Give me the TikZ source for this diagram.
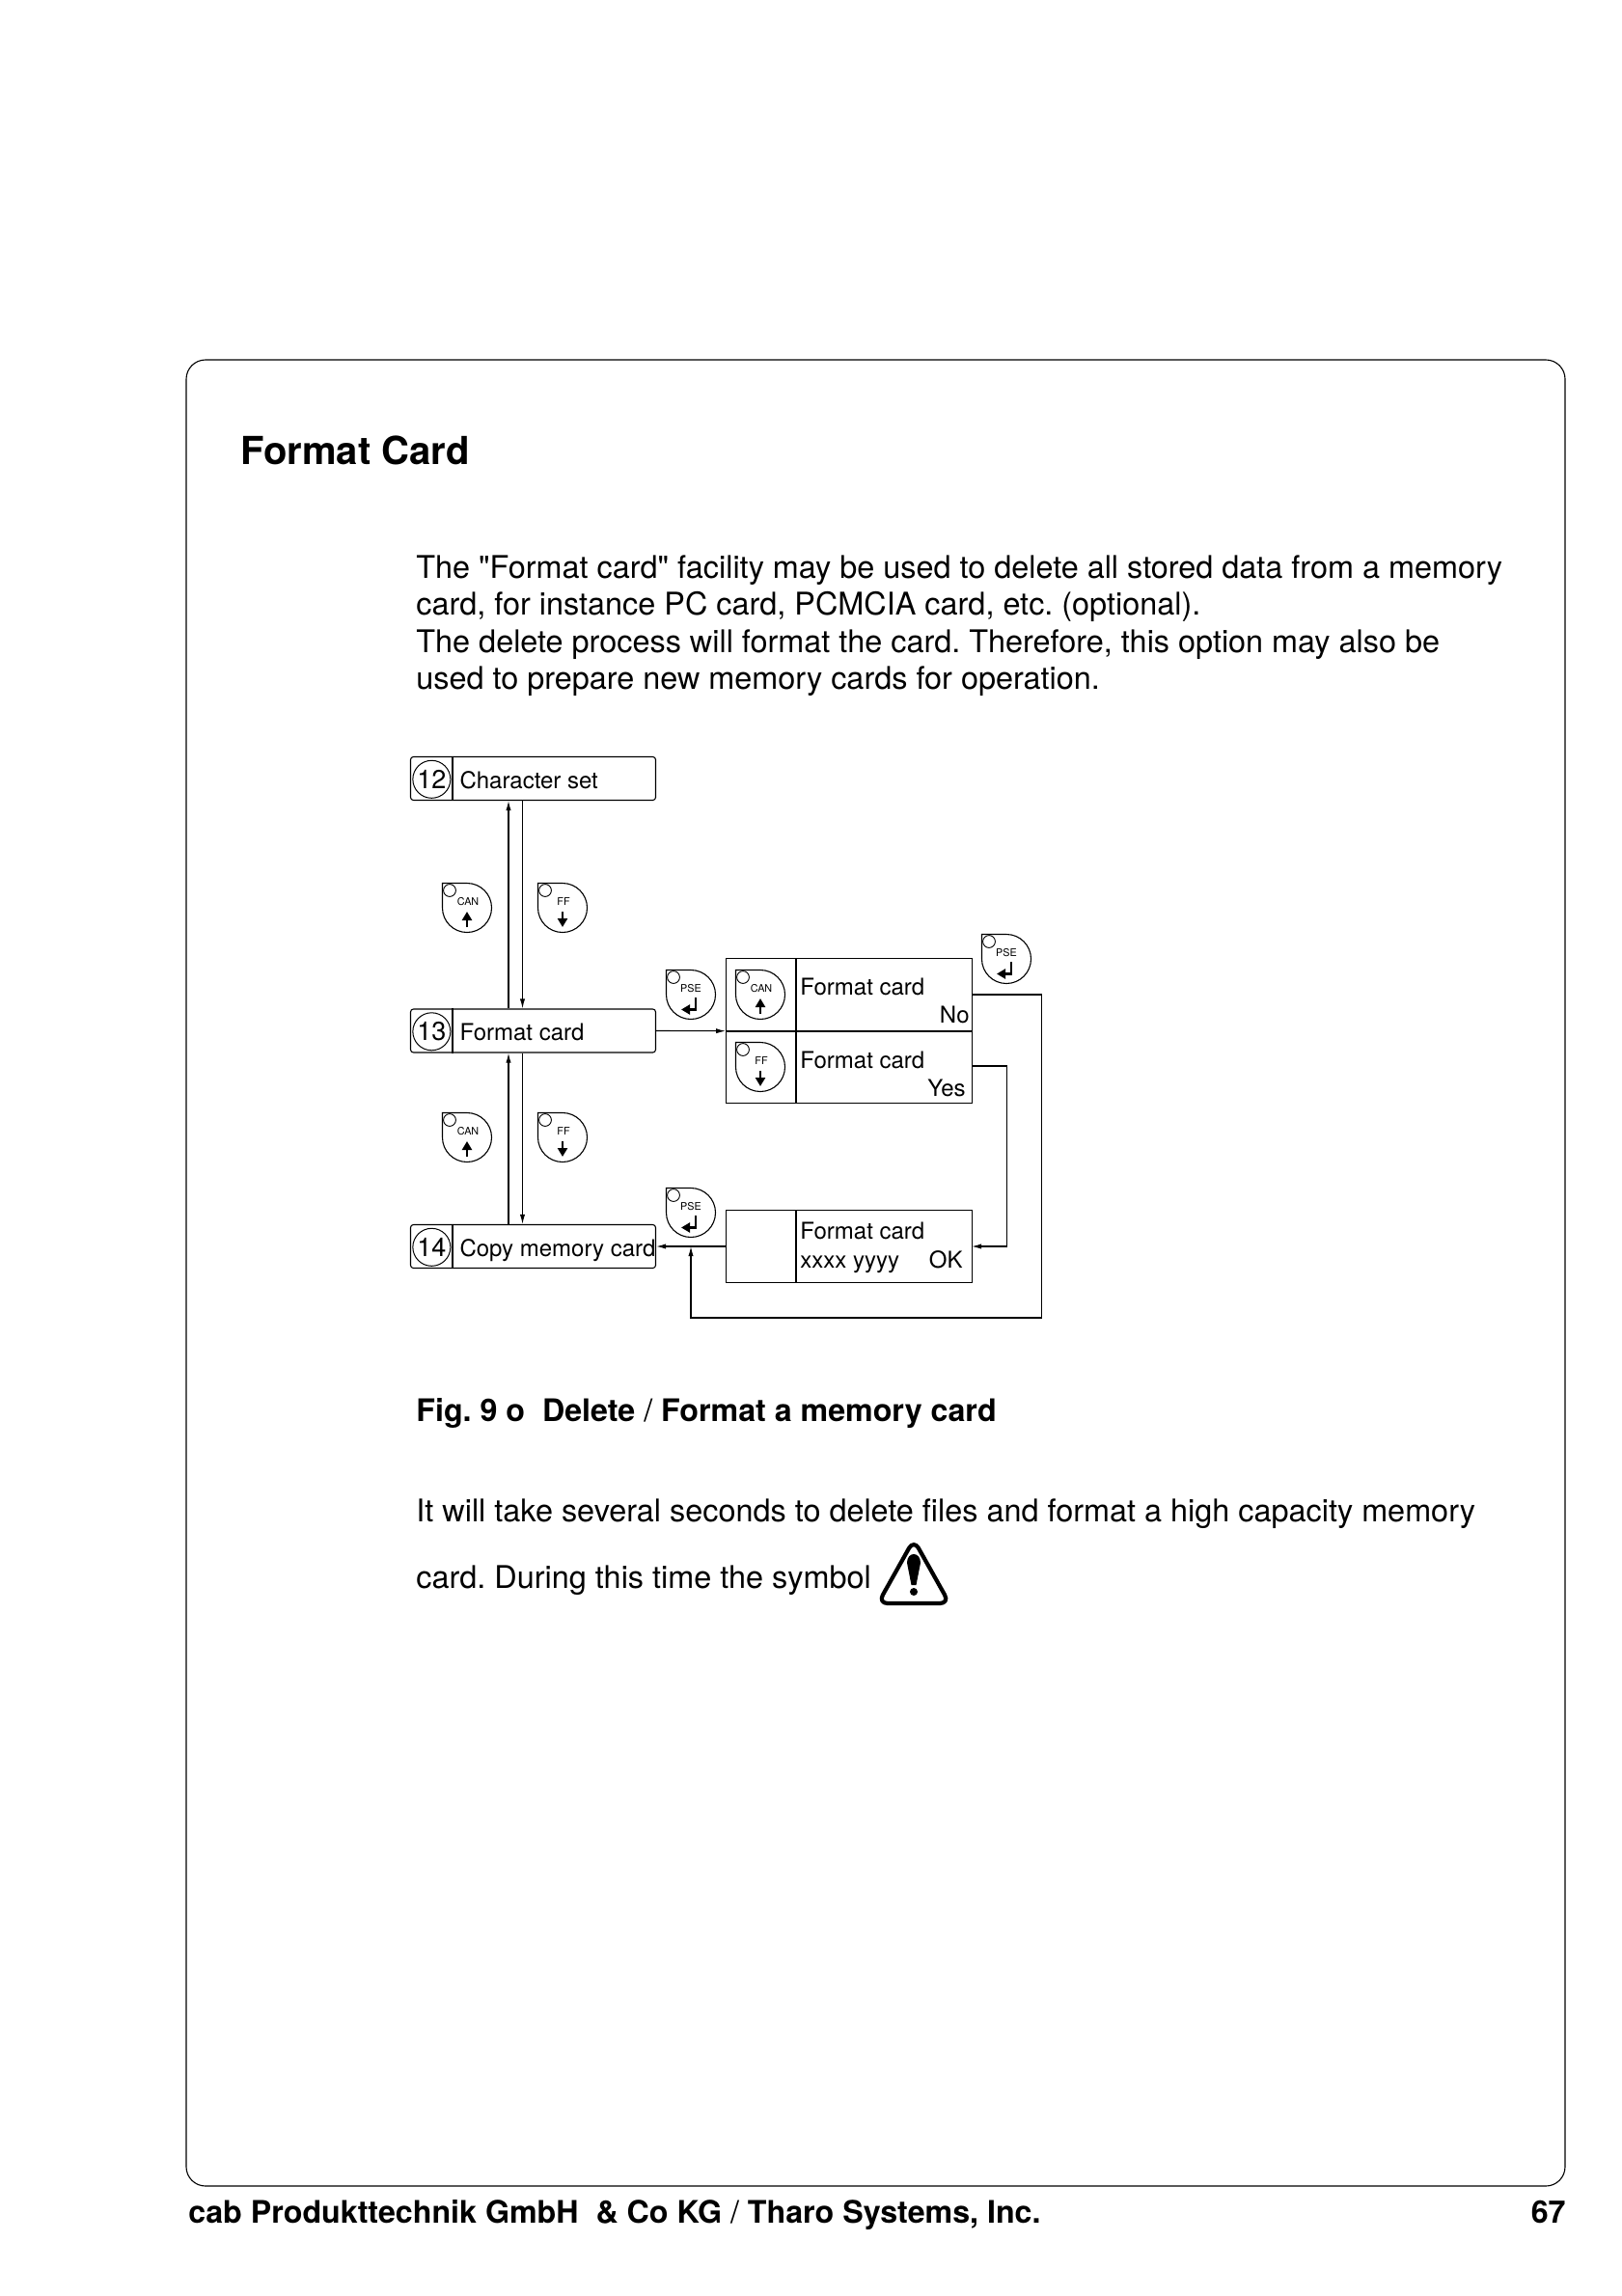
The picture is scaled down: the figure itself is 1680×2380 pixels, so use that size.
\documentclass[tikz,border=0pt]{standalone}
\usepackage{fontspec}
\setmainfont{TeX Gyre Heros}[Ligatures=TeXOff]
\usepackage{tikz}
\usetikzlibrary{arrows.meta, calc, positioning}

\tikzset{
  menubox/.style={draw, rounded corners=1.5pt, line width=0.55pt, minimum width=127pt, minimum height=22.5pt, inner sep=0pt},
  screenbox/.style={draw, line width=0.55pt, minimum width=127.5pt, minimum height=37.3pt, inner sep=0pt},
  numcirc/.style={draw, circle, line width=0.5pt, minimum size=19.5pt, inner sep=0pt, font=\fontsize{13.5}{13.5}\selectfont},
  boxlabel/.style={anchor=base west, inner sep=0pt, font=\fontsize{12}{14}\selectfont},
  boxvalue/.style={anchor=base east, inner sep=0pt, font=\fontsize{12}{14}\selectfont},
  bodytext/.style={anchor=base west, inner sep=0pt, font=\fontsize{16.2}{19}\selectfont},
  boldtext/.style={anchor=base west, inner sep=0pt, font=\fontsize{16.1}{19}\selectfont\bfseries},
  keylabel/.style={inner sep=0pt, font=\fontsize{5.4}{6}\selectfont},
  flow/.style={line width=0.55pt, -{Latex[length=5pt,width=2.6pt]}},
  plainline/.style={line width=0.55pt},
  % Tasto a goccia
  pics/keyshell/.style={code={
    \draw[line width=0.55pt] (-25.5,-25.5) -- (0,-25.5) .. controls (14.1,-25.5) and (25.5,-14.1) .. (25.5,0)
      .. controls (25.5,14.1) and (14.1,25.5) .. (0,25.5) .. controls (-14.1,25.5) and (-25.5,14.1) .. (-25.5,0) -- cycle;
    \draw[line width=0.45pt] (-18,-18) circle (3.2pt);
  }},
  pics/cankey/.style={code={
    \pic {keyshell};
    \node[keylabel] (-lbl) at (1,-6.5) {CAN};
    \draw[line width=1.2pt, -{Triangle[length=4.5pt,width=5pt]}] (0,20) -- (0,4);
  }},
  pics/ffkey/.style={code={
    \pic {keyshell};
    \node[keylabel] (-lbl) at (1,-6.5) {FF};
    \draw[line width=1.2pt, -{Triangle[length=4.5pt,width=5pt]}] (0,4) -- (0,20);
  }},
  pics/psekey/.style={code={
    \pic {keyshell};
    \node[keylabel] (-lbl) at (0,-6.5) {PSE};
    \draw[line width=1.2pt, -{Triangle[length=4.5pt,width=5pt]}] (5,3) -- (5,15.5) -- (-10,15.5);
  }},
}

\begin{document}
\frenchspacing
\begin{tikzpicture}[x=0.5pt, y=-0.5pt]
  \useasboundingbox (0,0) rectangle (1680,2380);

  % Cornice
  \draw[line width=0.55pt, rounded corners=10pt] (193,373) rectangle (1622,2266);

  % Testi
  \node[boldtext, font=\fontsize{20}{24}\selectfont\bfseries] (title) at (249,481) {Format Card};
  \node[bodytext] (para1) at (431,599) {The "Format card" facility may be used to delete all stored data from a memory};
  \node[bodytext] (para2) at (431,637) {card, for instance PC card, PCMCIA card, etc. (optional).};
  \node[bodytext] (para3) at (431,676) {The delete process will format the card. Therefore, this option may also be};
  \node[bodytext] (para4) at (431,714) {used to prepare new memory cards for operation.};
  \node[boldtext] (figcap) at (431,1473) {Fig. 9 o\ \ Delete {\mdseries /} Format a memory card};
  \node[bodytext] (para5) at (431,1577) {It will take several seconds to delete files and format a high capacity memory};
  \node[bodytext] (para6) at (431,1646) {card. During this time the symbol};
  \node[boldtext] (footer) at (195,2304) {cab Produkttechnik GmbH\ \ \& Co KG {\mdseries /} Tharo Systems, Inc.};
  \node[boldtext, anchor=base east] (pageno) at (1623,2304) {67};

  % Menu
  \node[menubox] (charset) at (552.5,807) {};
  \node[menubox] (fmtcard) at (552.5,1068.5) {};
  \node[menubox] (copycard) at (552.5,1292) {};
  \foreach \boxname/\num/\txt in {charset/12/Character set, fmtcard/13/Format card, copycard/14/Copy memory card} {
    \draw[plainline] ([xshift=22pt]\boxname.north west) -- ([xshift=22pt]\boxname.south west);
    \node[numcirc, anchor=center] (\boxname num) at ([xshift=11.2pt,yshift=-0.4pt]\boxname.west) {\num};
    \node[boxlabel] (\boxname txt) at ([xshift=25.6pt,yshift=-5.2pt]\boxname.west) {\txt};
  }

  % Schermate
  \node[screenbox, anchor=north west] (askno) at (752,993) {};
  \node[screenbox, anchor=north west] (askyes) at (askno.south west) {};
  \node[screenbox, anchor=north west] (done) at (752,1254) {};
  \foreach \boxname in {askno, askyes, done} {
    \draw[plainline] ([xshift=36.5pt]\boxname.north west) -- ([xshift=36.5pt]\boxname.south west);
  }
  \node[boxlabel] (asknotxt) at (829,1031) {Format card};
  \node[boxvalue] (asknoval) at (1005,1060) {No};
  \node[boxlabel] (askyestxt) at (829,1107) {Format card};
  \node[boxvalue] (askyesval) at (1001,1136) {Yes};
  \node[boxlabel] (donetxt) at (829,1284) {Format card};
  \node[boxlabel] (doneval) at (829,1314) {xxxx yyyy};
  \node[boxvalue] (doneok) at (998,1314) {OK};

  % Tasti
  \pic (can1) at (484,941) {cankey};
  \pic (ff1) at (583,941) {ffkey};
  \pic (can2) at (484,1179) {cankey};
  \pic (ff2) at (583,1179) {ffkey};
  \pic (pse1) at (716,1031) {psekey};
  \pic (can3) at (788,1031) {cankey};
  \pic (ff3) at (788,1106) {ffkey};
  \pic (pse2) at (1043,994) {psekey};
  \pic (pse3) at (716,1257) {psekey};

  % Frecce
  \coordinate (upline) at (527,0);
  \coordinate (downline) at (541.5,0);
  \coordinate (noline) at (1079.5,1366);
  \coordinate (yesline) at (1043.5,1292);
  \coordinate (backline) at (716,1366);
  \coordinate (noout) at (1007,1031);
  \coordinate (yesout) at (1007,1105);
  \coordinate (doneout) at (752,1292);
  \coordinate (merge) at (716,1292);
  \coordinate (okin) at (1007,1292);
  \draw[flow] (upline |- fmtcard.north) -- (upline |- charset.south);
  \draw[flow] (downline |- charset.south) -- (downline |- fmtcard.north);
  \draw[flow] (upline |- copycard.north) -- (upline |- fmtcard.south);
  \draw[flow] (downline |- fmtcard.south) -- (downline |- copycard.north);
  \draw[flow] (fmtcard.east) -- (askyes.north west);
  \draw[flow] (doneout) -- (copycard.east);
  \draw[flow] (yesout) -| (yesline) -- (okin);
  \draw[flow] (noout) -| (noline) -- (backline) -- (merge);

  % Simbolo di attenzione
  \draw[line width=2.1pt, rounded corners=5pt, line join=round] (947,1596) -- (984,1662) -- (910,1662) -- cycle;
  \fill (940,1620) .. controls (940,1608) and (954,1608) .. (954,1620) -- (949.5,1643) -- (944.5,1643) -- cycle;
  \fill (947,1650) circle (2pt);
\end{tikzpicture}
\end{document}
